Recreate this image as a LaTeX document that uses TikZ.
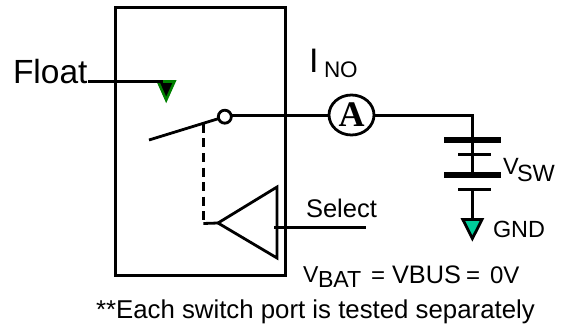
\documentclass[tikz,border=0pt]{standalone}
\usepackage{fontspec}
\setmainfont{Liberation Sans}
\newfontfamily\serifbold[BoldFont=Liberation Serif Bold]{Liberation Serif}
\usetikzlibrary{shapes.geometric}
\tikzset{
  wire/.style={draw=black,line width=2.8pt},
  thickplate/.style={draw=black,line width=6pt},
  thinplate/.style={draw=black,line width=3pt},
  lbl/.style={anchor=base west,inner sep=0pt,outer sep=0pt,text=black},
}
\newcommand{\fs}[1]{\fontsize{#1}{#1}\selectfont}
\definecolor{floatgreen}{RGB}{0,128,0}
\definecolor{gndteal}{RGB}{0,204,153}
\begin{document}
\begin{tikzpicture}[x=1pt,y=-1pt]
\useasboundingbox (0,0) rectangle (562,326);
% box
\node[wire,line width=3pt,fill=none,minimum width=170.5pt,minimum height=267pt,inner sep=0pt,outer sep=0pt,anchor=north west] (box) at (115,8) {};
% labels
\node[lbl] (float) at (13,84) {\fs{33.5}Float};
\node[lbl] (ino) at (309,73) {\fs{34}I};
\node[lbl] (inosub) at (324,78) {\fs{22.5}NO};
\node[lbl] (vsw) at (503,174) {\fs{23.5}V};
\node[lbl] (vswsub) at (517,181) {\fs{23.5}SW};
\node[lbl] (gnd) at (493,237) {\fs{23.4}GND};
\node[lbl] (select) at (306,217) {\fs{25.5}Select};
\node[lbl] (vb) at (303,282) {\fs{23}V};
\node[lbl] (vbsub) at (318,287) {\fs{23.2}BAT};
\node[lbl] (eq1) at (371,283) {\fs{24}=};
\node[lbl] (vbus) at (392,283) {\fs{25.3}VBUS};
\node[lbl] (eq2) at (466,283) {\fs{24}=};
\node[lbl] (zv) at (490,283) {\fs{24}0V};
\node[lbl] (note) at (96,318) {\fs{25.8}**Each switch port is tested separately};
% float
\coordinate (floatend) at (88,81.5);
\coordinate (floattri) at (163,81.5);
\draw[draw=floatgreen,line width=2.6pt,fill=black,line join=miter] (158,81.5) -- (174.5,81.5) -- (166.2,100) -- cycle;
\draw[wire] (floatend) -- (floattri);
% switch
\node[circle,wire,fill=white,minimum size=13pt,inner sep=0pt,outer sep=0pt] (pole) at (224.8,116.7) {};
\coordinate (swfree) at (149,140);
\draw[wire] (swfree) -- (pole);
% ammeter
\node[ellipse,wire,fill=white,minimum width=45pt,minimum height=40pt,inner sep=0pt,outer sep=0pt] (amm) at (351.5,115) {\fs{36}\serifbold\bfseries A};
\coordinate (corner) at (472.5,115.5);
\coordinate (p1) at (472.5,140);
\coordinate (junc) at (amm.west |- corner);
\draw[wire] (pole.east |- corner) -- (junc);
\draw[wire] (amm.east |- corner) -- (corner) -- (p1);
% battery
\coordinate (p3) at (472.5,175);
\coordinate (p4) at (472.5,189);
\coordinate (gtop) at (472.5,219);
\draw[wire] (p1) -- (p3);
\draw[thickplate] (444,140) -- (501,140);
\draw[thinplate] (458,154) -- (491,154);
\draw[thickplate] (444,175) -- (501,175);
\draw[thinplate] (458,189) -- (491,189);
\draw[wire] (p4) -- (gtop);
\draw[wire,fill=gndteal,line join=miter] (462.8,219.5) -- (482,219.5) -- (472.4,238.5) -- cycle;
% buffer
\coordinate (ba) at (218,223);
\coordinate (bt) at (277,187);
\coordinate (bb) at (277,258);
\coordinate (sel) at (274,227.5);
\coordinate (selend) at (366,227.5);
\coordinate (dtop) at (203.3,124);
\coordinate (dbot) at (203.3,223.5);
\draw[wire,line join=miter] (ba) -- (bt) -- (bb) -- cycle;
\draw[wire,dash pattern=on 9pt off 5.5pt] (dtop) -- (dbot);
\draw[wire] (dbot) -- (ba);
\draw[wire] (sel) -- (selend);
\end{tikzpicture}
\end{document}
